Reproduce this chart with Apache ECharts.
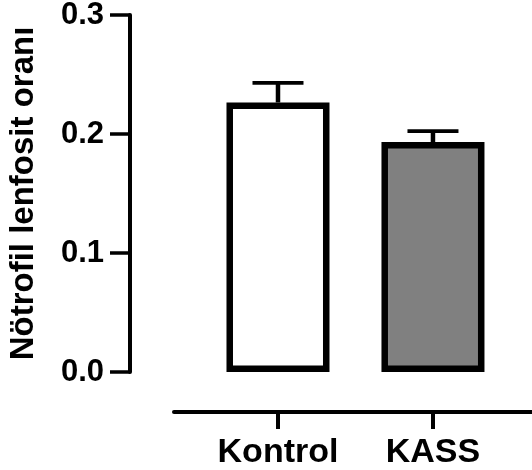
<!DOCTYPE html>
<html>
<head>
<meta charset="utf-8">
<script src="https://cdn.jsdelivr.net/npm/echarts@6/dist/echarts.min.js"></script>
<style>
  html, body { margin: 0; padding: 0; background: #fff; }
  #main { width: 532px; height: 470px; }
</style>
</head>
<body>
<div id="main"></div>
<script>
const categories = ['Kontrol', 'KASS']
const positions = [1, 2]
const means = [0.2265, 0.1933]
const errors = [0.0165, 0.0092]
const barColors = ['#ffffff', '#808080']
const yTicks = [0, 0.1, 0.2, 0.3]

const font = 'Liberation Sans, Arial, Helvetica, sans-serif'

const chart = echarts.init(document.getElementById('main'))

const barData = positions.map((x, i) => ({
  value: [x, means[i]],
  itemStyle: { color: barColors[i] }
}))
const errData = positions.map((x, i) => [x, means[i], means[i] + errors[i]])

chart.setOption({
  animation: false,
  grid: {
    left: 174,
    right: 0,
    top: 15,
    bottom: 98,
    outerBoundsMode: 'none'
  },
  xAxis: {
    type: 'value',
    min: 0.329,
    max: 2.639,
    offset: 40,
    splitLine: { show: false },
    axisLine: { show: true, onZero: false, lineStyle: { color: '#000', width: 4 } },
    axisTick: {
      show: true,
      length: 17,
      customValues: positions,
      lineStyle: { color: '#000', width: 4 }
    },
    axisLabel: {
      customValues: positions,
      margin: 24,
      color: '#000',
      fontFamily: font,
      fontWeight: 'bold',
      fontSize: 34,
      formatter: (v) => categories[Math.round(v) - 1] || ''
    }
  },
  yAxis: {
    type: 'value',
    min: 0,
    max: 0.3,
    interval: 0.1,
    offset: 44,
    name: 'Nötrofil lenfosit oranı',
    nameLocation: 'middle',
    nameGap: 90,
    nameTextStyle: {
      color: '#000',
      fontFamily: font,
      fontWeight: 'bold',
      fontSize: 33
    },
    splitLine: { show: false },
    axisLine: { show: true, lineStyle: { color: '#000', width: 4 } },
    axisTick: { show: true, length: 20, lineStyle: { color: '#000', width: 3.5 } },
    axisLabel: {
      margin: 26,
      color: '#000',
      fontFamily: font,
      fontWeight: 'bold',
      fontSize: 31,
      customValues: yTicks,
      formatter: (v) => v.toFixed(1)
    }
  },
  series: [
    {
      type: 'bar',
      data: barData,
      barWidth: 103,
      itemStyle: { borderColor: '#000', borderWidth: 6.5 }
    },
    {
      type: 'custom',
      data: errData,
      z: 3,
      renderItem: (params, api) => {
        const x = api.value(0)
        const p0 = api.coord([x, api.value(1)])
        const p1 = api.coord([x, api.value(2)])
        const half = 25.5
        return {
          type: 'group',
          children: [
            {
              type: 'line',
              shape: { x1: p0[0], y1: p0[1], x2: p1[0], y2: p1[1] },
              style: { stroke: '#000', lineWidth: 4.5 }
            },
            {
              type: 'line',
              shape: { x1: p1[0] - half, y1: p1[1], x2: p1[0] + half, y2: p1[1] },
              style: { stroke: '#000', lineWidth: 3.7 }
            }
          ]
        }
      }
    }
  ]
})
</script>
</body>
</html>
